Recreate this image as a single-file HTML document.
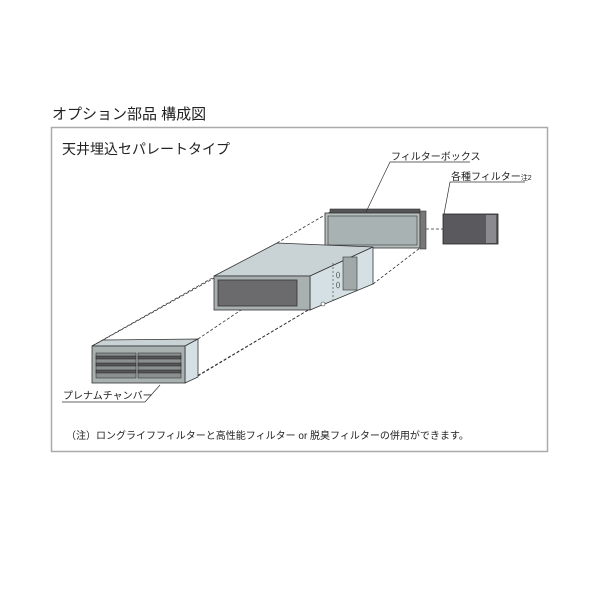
<!DOCTYPE html>
<html><head><meta charset="utf-8"><style>
body{margin:0;background:#fff;}
svg{display:block;font-family:"Liberation Sans","Noto Sans CJK JP",sans-serif;}
</style></head><body>
<svg width="600" height="600" viewBox="0 0 600 600" xmlns="http://www.w3.org/2000/svg">
<text x="52" y="119" font-size="15" fill="#222">オプション部品 構成図</text>
<rect x="51.5" y="127.5" width="496" height="324" fill="none" stroke="#aaa" stroke-width="1.5"/>
<text x="62" y="154" font-size="14" fill="#222">天井埋込セパレートタイプ</text>
<g stroke="#333" stroke-width="0.8" stroke-dasharray="3,2" fill="none">
<line x1="103" y1="340" x2="277" y2="243"/>
<line x1="92" y1="346" x2="214" y2="277"/>
<line x1="198" y1="339" x2="330" y2="250"/>
<line x1="198" y1="376" x2="310" y2="309"/>
<line x1="185" y1="383" x2="310" y2="309"/>
<line x1="277" y1="243" x2="330" y2="212"/>
<line x1="300" y1="286" x2="420" y2="215"/>
<line x1="373" y1="284" x2="420" y2="248"/>
<line x1="426" y1="229" x2="443" y2="229"/>
</g>
<rect x="330" y="209" width="90" height="4" fill="#555" stroke="#333" stroke-width="0.6"/>
<rect x="325" y="213" width="95" height="35" fill="#b5bdbd" stroke="#333" stroke-width="0.8"/>
<rect x="328" y="216" width="89" height="29" fill="#a8b2b2" stroke="#333" stroke-width="0.6"/>
<rect x="420" y="211" width="6" height="38" fill="#777" stroke="#333" stroke-width="0.6"/>
<rect x="443" y="214" width="55" height="30" fill="#5a5a5e" stroke="#222" stroke-width="0.8"/>
<rect x="486" y="215" width="10" height="28" fill="#8a8a90"/>
<polygon points="214,276 277,243 373,247 310,276" fill="#c9d3d6" stroke="#333" stroke-width="0.8"/>
<polygon points="310,276 373,247 373,284 310,310" fill="#d4e0e4" stroke="#333" stroke-width="0.8"/>
<rect x="214" y="276" width="96" height="34" fill="#a9b0b0" stroke="#333" stroke-width="0.8"/>
<rect x="218" y="280" width="79" height="26" fill="#6b6b6e" stroke="#333" stroke-width="0.8"/>
<rect x="343" y="257" width="14" height="33" fill="#a0a8a8" stroke="#333" stroke-width="0.6"/>
<line x1="333" y1="263" x2="333" y2="300" stroke="#333" stroke-width="0.6" stroke-dasharray="2,2"/>
<circle cx="323" cy="304" r="2" fill="#fff" stroke="#333" stroke-width="0.6"/>
<ellipse cx="338" cy="275" rx="1.5" ry="3" fill="none" stroke="#333" stroke-width="0.6"/>
<ellipse cx="338" cy="285" rx="1.5" ry="3" fill="none" stroke="#333" stroke-width="0.6"/>
<polygon points="92,346 103,340 198,339 185,346" fill="#c9d3d6" stroke="#333" stroke-width="0.8"/>
<polygon points="185,346 198,339 198,377 185,383" fill="#d4e0e4" stroke="#333" stroke-width="0.8"/>
<rect x="92" y="346" width="93" height="37" fill="#a9b0b0" stroke="#333" stroke-width="0.8"/>
<g fill="#555" stroke="#222" stroke-width="0.5">
<rect x="96" y="353" width="40" height="25" fill="#8a8f90"/>
<rect x="138" y="353" width="43" height="25" fill="#8a8f90"/>
<rect x="96" y="356" width="40" height="3"/><rect x="96" y="363" width="40" height="3"/><rect x="96" y="370" width="40" height="3"/>
<rect x="138" y="356" width="43" height="3"/><rect x="138" y="363" width="43" height="3"/><rect x="138" y="370" width="43" height="3"/>
</g>
<g stroke="#333" stroke-width="0.7" fill="none">
<polyline points="470,162 390,162 366,212"/>
<polyline points="525,182 450,182 444,214"/>
<polyline points="62,402 145,402 160,385"/>
</g>
<text x="391" y="160" font-size="10" fill="#222">フィルターボックス</text>
<text x="451" y="180" font-size="10" fill="#222">各種フィルター<tspan font-size="7">注2</tspan></text>
<text x="63" y="399" font-size="10" fill="#222">プレナムチャンバー</text>
<text x="66" y="439" font-size="10" fill="#222">（注）ロングライフフィルターと高性能フィルター or 脱臭フィルターの併用ができます。</text>
</svg>
</body></html>
